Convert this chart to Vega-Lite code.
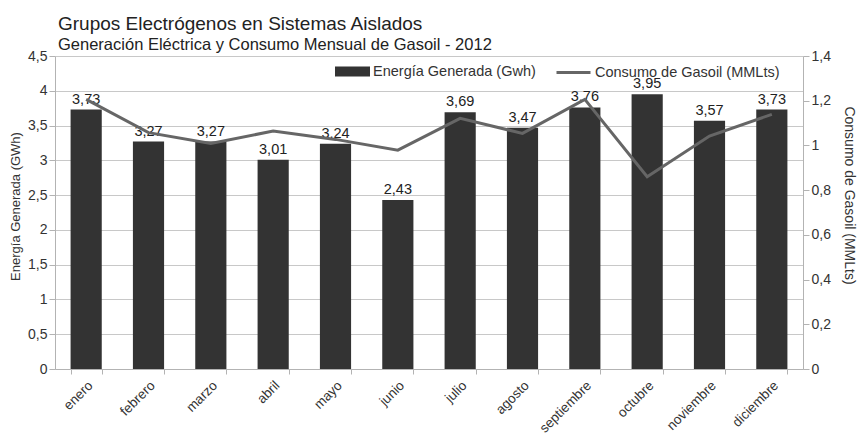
{
  "$schema": "https://vega.github.io/schema/vega-lite/v6.json",
  "width": 748,
  "height": 313,
  "autosize": {"type": "none"},
  "padding": {"left": 55, "top": 56, "right": 54, "bottom": 67},
  "background": "white",
  "config": {
    "locale": {"number": {"decimal": ",", "thousands": ".", "grouping": [3], "currency": ["", " €"]}},
    "font": "Liberation Sans",
    "view": {"stroke": null},
    "axis": {"labelFont": "Liberation Sans", "labelFontSize": 14, "labelColor": "#333333", "titleFont": "Liberation Sans", "titleFontSize": 13, "titleFontWeight": "normal", "titleColor": "#333333", "domainColor": "#b3b3b3", "tickColor": "#b3b3b3", "gridColor": "#c8c8c8"},
    "legend": {"labelFont": "Liberation Sans", "labelFontSize": 14.5, "labelColor": "#333333", "labelLimit": 400}
  },
  "title": {
    "text": "Grupos Electrógenos en Sistemas Aislados",
    "subtitle": "Generación Eléctrica y Consumo Mensual de Gasoil - 2012",
    "anchor": "start",
    "frame": "group",
    "dx": 3,
    "offset": -4,
    "font": "Liberation Sans",
    "fontSize": 19,
    "fontWeight": "normal",
    "color": "#222222",
    "subtitleFont": "Liberation Sans",
    "subtitleFontSize": 16.5,
    "subtitleColor": "#222222",
    "subtitlePadding": 3
  },
  "data": {
    "values": [
      {"mes": "enero", "energia": 3.73, "gasoil": 1.206},
      {"mes": "febrero", "energia": 3.27, "gasoil": 1.057},
      {"mes": "marzo", "energia": 3.27, "gasoil": 1.009},
      {"mes": "abril", "energia": 3.01, "gasoil": 1.064},
      {"mes": "mayo", "energia": 3.24, "gasoil": 1.027},
      {"mes": "junio", "energia": 2.43, "gasoil": 0.979},
      {"mes": "julio", "energia": 3.69, "gasoil": 1.121},
      {"mes": "agosto", "energia": 3.47, "gasoil": 1.054},
      {"mes": "septiembre", "energia": 3.76, "gasoil": 1.206},
      {"mes": "octubre", "energia": 3.95, "gasoil": 0.86},
      {"mes": "noviembre", "energia": 3.57, "gasoil": 1.042},
      {"mes": "diciembre", "energia": 3.73, "gasoil": 1.139}
    ]
  },
  "encoding": {
    "x": {
      "field": "mes", "type": "nominal", "sort": null, "title": null,
      "scale": {"paddingInner": 0.5, "paddingOuter": 0.25},
      "axis": {"labelAngle": -45, "labelAlign": "right", "labelBaseline": "middle", "labelFontSize": 13.5, "tickBand": "extent", "tickSize": 5, "labelPadding": 9, "labelOffset": 4, "domainColor": "#b3b3b3"}
    }
  },
  "layer": [
    {
      "encoding": {
        "y": {"field": "energia", "type": "quantitative", "scale": {"domain": [0, 4.5]},
          "axis": {"title": "Energía Generada (GWh)", "values": [0, 0.5, 1, 1.5, 2, 2.5, 3, 3.5, 4, 4.5], "format": "~g", "grid": true, "tickSize": 6, "domain": true, "titlePadding": 5, "titleY": 150}}
      },
      "layer": [
        {
          "mark": {"type": "bar", "color": "#333333"},
          "encoding": {
            "fill": {"datum": "Energía Generada (Gwh)", "type": "nominal",
              "scale": {"range": ["#333333"]},
              "legend": {"title": null, "orient": "none", "legendX": 280, "legendY": -2, "symbolType": "M-1,-0.28H1V0.28H-1Z", "symbolSize": 1225, "symbolStrokeWidth": 0, "labelOffset": 3}}
          }
        },
        {
          "mark": {"type": "text", "baseline": "bottom", "dy": -3, "fontSize": 14.5, "color": "#222222", "font": "Liberation Sans"},
          "encoding": {
            "text": {"field": "energia", "type": "quantitative", "format": ".2f"}
          }
        }
      ]
    },
    {
      "mark": {"type": "line", "color": "#666666", "strokeWidth": 3},
      "encoding": {
        "y": {"field": "gasoil", "type": "quantitative", "scale": {"domain": [0, 1.4]},
          "axis": {"orient": "right", "title": "Consumo de Gasoil (MMLts)", "titleAngle": 90, "titleFontSize": 14, "values": [0, 0.2, 0.4, 0.6, 0.8, 1, 1.2, 1.4], "format": "~g", "grid": false, "tickSize": 6, "titlePadding": 11, "titleY": 139}},
        "stroke": {"datum": "Consumo de Gasoil (MMLts)", "type": "nominal",
          "scale": {"range": ["#666666"]},
          "legend": {"title": null, "orient": "none", "legendX": 500, "legendY": -2, "symbolType": "stroke", "symbolSize": 1156, "symbolStrokeWidth": 3, "labelOffset": 3}}
      }
    }
  ],
  "resolve": {"scale": {"y": "independent", "fill": "independent", "stroke": "independent"}}
}
